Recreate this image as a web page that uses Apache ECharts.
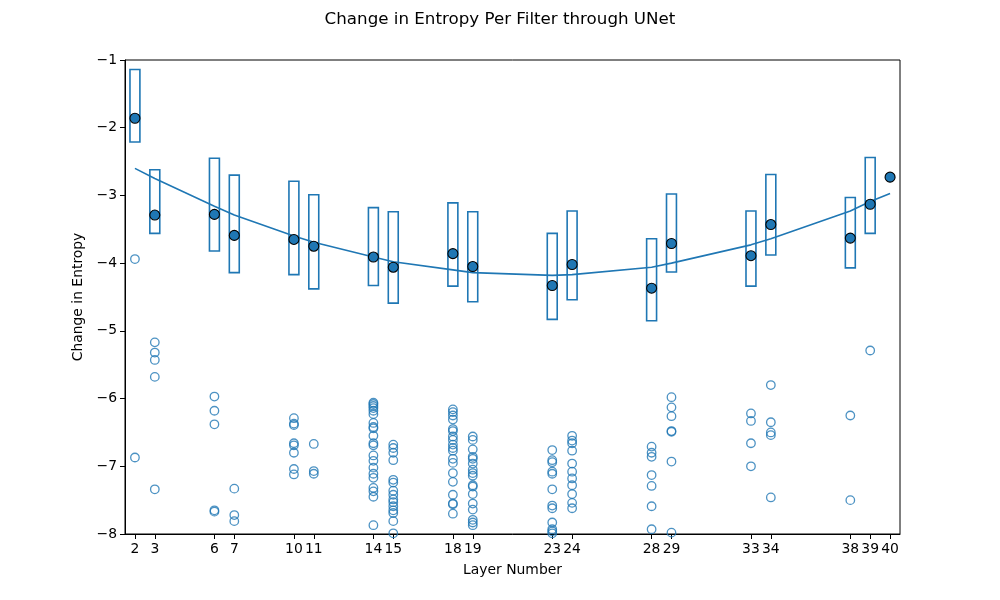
<!DOCTYPE html>
<html>
<head>
<meta charset="utf-8">
<script src="https://cdn.jsdelivr.net/npm/echarts@6/dist/echarts.min.js"></script>
<style>html,body{margin:0;padding:0;background:#fff}#c{width:1000px;height:600px}</style>
</head>
<body>
<div id="c"></div>
<script>
const layers = [2, 3, 6, 7, 10, 11, 14, 15, 18, 19, 23, 24, 28, 29, 33, 34, 38, 39, 40];
const boxTop = [-1.14, -2.62, -2.45, -2.70, -2.79, -2.99, -3.18, -3.24, -3.11, -3.24, -3.56, -3.23, -3.64, -2.98, -3.23, -2.69, -3.03, -2.44, -2.73];
const boxBottom = [-2.21, -3.56, -3.82, -4.14, -4.17, -4.38, -4.33, -4.59, -4.34, -4.57, -4.83, -4.54, -4.85, -4.13, -4.34, -3.88, -4.07, -3.56, -2.73];
const centers = [-1.86, -3.29, -3.28, -3.59, -3.65, -3.75, -3.91, -4.06, -3.86, -4.05, -4.33, -4.02, -4.37, -3.71, -3.89, -3.43, -3.63, -3.13, -2.73];
const fitLine = [-2.60, -2.75, -3.16, -3.29, -3.60, -3.69, -3.91, -3.98, -4.10, -4.14, -4.18, -4.17, -4.06, -4.00, -3.73, -3.64, -3.23, -3.09, -2.97];
const outliers = [
  [-3.94, -6.87],
  [-5.17, -5.32, -5.43, -5.68, -7.34],
  [-5.97, -6.18, -6.38, -7.65, -7.67],
  [-7.33, -7.72, -7.81],
  [-6.29, -6.37, -6.39, -6.66, -6.69, -6.80, -7.04, -7.12],
  [-6.67, -7.07, -7.11],
  [-6.06, -6.08, -6.11, -6.14, -6.18, -6.23, -6.36, -6.42, -6.44, -6.55, -6.66, -6.69, -6.84, -6.92, -7.02, -7.11, -7.17, -7.32, -7.37, -7.45, -7.87],
  [-6.68, -6.73, -6.80, -6.91, -7.20, -7.24, -7.36, -7.42, -7.49, -7.53, -7.59, -7.65, -7.69, -7.81, -7.99],
  [-6.16, -6.20, -6.25, -6.31, -6.45, -6.48, -6.56, -6.61, -6.68, -6.73, -6.77, -6.89, -6.95, -7.10, -7.23, -7.42, -7.55, -7.56, -7.70],
  [-6.56, -6.61, -6.75, -6.86, -6.89, -6.96, -7.05, -7.10, -7.14, -7.28, -7.30, -7.41, -7.55, -7.64, -7.79, -7.83, -7.87],
  [-6.76, -6.91, -6.94, -7.08, -7.11, -7.34, -7.58, -7.62, -7.83, -7.93, -7.96, -7.99],
  [-6.55, -6.62, -6.66, -6.77, -6.96, -7.08, -7.18, -7.28, -7.41, -7.54, -7.62],
  [-6.71, -6.80, -6.86, -7.13, -7.29, -7.59, -7.93],
  [-5.98, -6.13, -6.26, -6.48, -6.49, -6.93, -7.98],
  [-6.22, -6.33, -6.66, -7.00],
  [-5.80, -6.35, -6.50, -6.54, -7.46],
  [-6.25, -7.50],
  [-5.29],
  []
];
const yTicks = [-8, -7, -6, -5, -4, -3, -2, -1];

const C0 = '#1f77b4';
const font = 'DejaVu Sans';
const minus = v => String(v).replace('-', '\u2212');

const boxData = layers.map((x, i) => [x, boxBottom[i], boxTop[i]]);
const centerData = layers.map((x, i) => [x, centers[i]]);
const fitData = layers.map((x, i) => [x, fitLine[i]]);
const outlierData = [];
layers.forEach((x, i) => outliers[i].forEach(v => outlierData.push([x, v])));

const chart = echarts.init(document.getElementById('c'));
chart.setOption({
  animation: false,
  backgroundColor: '#fff',
  title: {
    text: 'Change in Entropy Per Filter through UNet',
    left: 'center', top: 6,
    textStyle: { fontFamily: font, fontSize: 16.7, fontWeight: 'normal', color: '#000' }
  },
  grid: { left: 125, right: 100, top: 60, bottom: 66, show: true, borderColor: '#000', borderWidth: 1, backgroundColor: 'transparent' },
  xAxis: {
    type: 'value', min: 1.5, max: 40.5,
    name: 'Layer Number', nameLocation: 'middle', nameGap: 29,
    nameTextStyle: { fontFamily: font, fontSize: 13.9, color: '#000' },
    axisLine: { show: true, lineStyle: { color: '#000', width: 1 } },
    axisTick: { show: true, length: 5, lineStyle: { color: '#000' }, customValues: layers },
    axisLabel: { fontFamily: font, fontSize: 13.9, color: '#000', margin: 8, customValues: layers, hideOverlap: false },
    splitLine: { show: false }
  },
  yAxis: {
    type: 'value', min: -8, max: -1, interval: 1,
    name: 'Change in Entropy', nameLocation: 'middle', nameGap: 38, nameRotate: 90,
    nameTextStyle: { fontFamily: font, fontSize: 13.9, color: '#000' },
    axisLine: { show: true, lineStyle: { color: '#000', width: 1 } },
    axisTick: { show: true, length: 5, lineStyle: { color: '#000' }, customValues: yTicks },
    axisLabel: { fontFamily: font, fontSize: 13.9, color: '#000', margin: 8, formatter: minus, customValues: yTicks },
    splitLine: { show: false }
  },
  series: [
    {
      type: 'scatter', name: 'outliers', data: outlierData,
      symbol: 'circle', symbolSize: 8.5,
      itemStyle: { color: 'transparent', borderColor: C0, borderWidth: 1.3 },
      z: 2
    },
    {
      type: 'custom', name: 'boxes', data: boxData,
      renderItem: function (params, api) {
        const x = api.value(0);
        const lo = api.coord([x - 0.25, api.value(1)]);
        const hi = api.coord([x + 0.25, api.value(2)]);
        return {
          type: 'rect',
          shape: { x: lo[0], y: hi[1], width: hi[0] - lo[0], height: lo[1] - hi[1] },
          style: { fill: 'none', stroke: C0, lineWidth: 1.6 }
        };
      },
      encode: { x: 0, y: [1, 2] },
      z: 3
    },
    {
      type: 'line', name: 'fit', data: fitData,
      symbol: 'none', smooth: false,
      lineStyle: { color: C0, width: 1.6 },
      z: 4
    },
    {
      type: 'scatter', name: 'centers', data: centerData,
      symbol: 'circle', symbolSize: 10,
      itemStyle: { color: C0, borderColor: '#000', borderWidth: 1.1, opacity: 1 },
      z: 5
    }
  ]
});
</script>
</body>
</html>
